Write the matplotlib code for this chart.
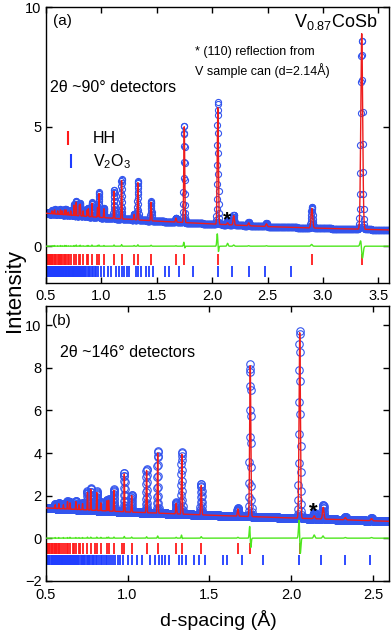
"""Neutron diffraction refinement plot, V0.87CoSb, two detector banks."""
import numpy as np
import matplotlib
matplotlib.use('Agg')
import matplotlib.pyplot as plt

# ---- panel (a): 2theta ~90 deg bank ----
a_bg_d = [0.5, 1.0, 1.5, 2.0, 2.5, 3.0, 3.6]
a_bg_y = [1.38, 1.20, 1.05, 0.93, 0.82, 0.75, 0.68]
a_pos = [0.558, 0.569, 0.580, 0.608, 0.633, 0.648, 0.670, 0.684, 0.703, 0.725,
         0.755, 0.775, 0.804, 0.812, 0.837, 0.874, 0.884, 0.917, 0.967, 0.980,
         1.025, 1.116, 1.184, 1.297, 1.331, 1.450, 1.674, 1.749, 2.051, 2.140,
         2.195, 2.330, 2.490, 2.900, 3.349]
a_obs = [1.50, 1.45, 1.55, 1.50, 1.55, 1.50, 1.55, 1.55, 1.45, 1.50,
         1.75, 1.90, 1.75, 1.80, 1.50, 1.55, 1.60, 1.85, 1.65, 2.25,
         1.60, 2.35, 2.82, 1.36, 2.72, 1.88, 1.20, 5.08, 6.05, 1.10,
         1.33, 1.00, 0.96, 1.65, 8.67]
a_calc = [1.48, 1.43, 1.52, 1.48, 1.52, 1.48, 1.52, 1.52, 1.43, 1.48,
          1.72, 1.85, 1.72, 1.76, 1.48, 1.52, 1.57, 1.80, 1.62, 2.20,
          1.57, 2.30, 2.75, 1.33, 2.66, 1.84, 1.18, 5.00, 5.80, 0.98,
          1.28, 0.98, 0.94, 1.58, 8.90]
a_shift = [0, 0, 0, 0, 0, 0, 0, 0, 0, 0,
           0, 0, 0, 0, 0, 0, 0, 0, 0, 0,
           0, 0, 0, 0, 0, 0, 0, 0.0002, 0.0006, 0,
           0, 0, 0, 0.0002, 0.0006]

# ---- panel (b): 2theta ~146 deg bank ----
b_bg_d = [0.5, 1.0, 1.5, 2.0, 2.6]
b_bg_y = [1.42, 1.23, 1.08, 0.95, 0.79]
b_pos = [0.558, 0.580, 0.608, 0.633, 0.648, 0.684, 0.703, 0.725, 0.755, 0.775,
         0.812, 0.837, 0.874, 0.884, 0.917, 0.980, 1.025, 1.116, 1.184, 1.297,
         1.331, 1.450, 1.674, 1.749, 2.051, 2.140, 2.195, 2.330, 2.490]
b_obs = [1.60, 1.65, 1.60, 1.75, 1.70, 1.75, 1.60, 1.65, 2.20, 2.35,
         2.20, 1.70, 1.80, 1.83, 2.30, 3.10, 2.05, 3.25, 4.10, 1.68,
         4.06, 2.55, 1.42, 8.19, 9.76, 1.20, 1.55, 1.00, 0.95]
b_calc = [1.57, 1.62, 1.57, 1.72, 1.66, 1.72, 1.57, 1.62, 2.15, 2.30,
          2.15, 1.66, 1.76, 1.78, 2.25, 3.02, 2.00, 3.18, 4.00, 1.64,
          3.95, 2.48, 1.38, 8.10, 9.65, 1.05, 1.45, 0.97, 0.92]
b_shift = [0, 0, 0, 0, 0, 0, 0, 0, 0, 0,
           0, 0, 0, 0, 0, 0, 0, 0, 0, 0,
           0.0001, 0, 0, 0.0004, 0.0006, 0, 0.0002, 0, 0]

# ---- reflection markers ----
hh_d = [3.349, 2.900, 2.051, 1.749, 1.674, 1.450, 1.331, 1.297, 1.184, 1.116,
        1.025, 0.980, 0.967, 0.917, 0.884, 0.874, 0.837, 0.812, 0.804, 0.775,
        0.755, 0.725, 0.709, 0.703, 0.684, 0.670, 0.665, 0.648, 0.637, 0.633,
        0.618, 0.608, 0.592, 0.583, 0.580, 0.569, 0.561, 0.558, 0.549, 0.541,
        0.539, 0.529, 0.523, 0.513, 0.507, 0.505]
v2o3_d = [2.71, 2.48, 2.33, 2.18, 2.05, 1.83, 1.70, 1.61, 1.58, 1.47,
          1.435, 1.405, 1.36, 1.335, 1.315, 1.255, 1.23, 1.21, 1.19, 1.165,
          1.135, 1.09, 1.06, 1.03, 1.00, 0.97, 0.952, 0.940, 0.926, 0.913,
          0.900, 0.888, 0.877, 0.866, 0.855, 0.845, 0.835, 0.825, 0.816, 0.807,
          0.798, 0.790, 0.781, 0.773, 0.765, 0.757, 0.750, 0.742, 0.734, 0.727,
          0.720, 0.713, 0.706, 0.699, 0.692, 0.686, 0.679, 0.673, 0.667, 0.660,
          0.654, 0.648, 0.642, 0.637, 0.631, 0.625, 0.619, 0.614, 0.608, 0.602,
          0.597, 0.591, 0.586, 0.580, 0.574, 0.569, 0.563, 0.558, 0.552, 0.547,
          0.541, 0.536, 0.530, 0.523, 0.518, 0.512, 0.505]

BLUE = '#3355ee'
RED = '#ee1c1c'
GREEN = '#4ee61e'
TRED = '#ff1a1a'
TBLUE = '#1f3dff'


def profile(d, bg_d, bg_y, pos, tot, shift, sfrac):
    bg = np.interp(d, bg_d, bg_y)
    y = bg.copy()
    for p, t, s in zip(pos, tot, shift):
        amp = t - np.interp(p, bg_d, bg_y)
        c = p + s
        y += amp * np.exp(-0.5 * ((d - c) / (sfrac * c)) ** 2)
    return y


plt.rcParams.update({'font.family': 'Liberation Sans', 'font.size': 10.5,
                     'axes.linewidth': 1.0, 'mathtext.default': 'regular'})
fig = plt.figure(figsize=(3.92, 6.36), dpi=100)
axa = fig.add_axes([0.1166, 0.5558, 0.877, 0.4327])
axb = fig.add_axes([0.1166, 0.0869, 0.877, 0.4324])

panels = [
    (axa, (0.5, 3.6), (-1.52, 10.0), a_bg_d, a_bg_y, a_pos, a_obs, a_calc, a_shift,
     0.0025, 4.4, (-0.31, -0.79), (-0.84, -1.28)),
    (axb, (0.5, 2.6), (-2.0, 10.92), b_bg_d, b_bg_y, b_pos, b_obs, b_calc, b_shift,
     0.0020, 5.4, (-0.24, -0.75), (-0.77, -1.27)),
]
for (ax, xl, yl, bgd, bgy, pos, obs, calc, shift, sf, ms, rr, br) in panels:
    d = np.geomspace(xl[0], xl[1], 2800)
    dfine = np.geomspace(xl[0], xl[1], 9000)
    zero = [0.0] * len(pos)
    y_obs = profile(d, bgd, bgy, pos, obs, zero, sf)
    y_calc = profile(dfine, bgd, bgy, pos, calc, shift, sf)
    y_calc_d = profile(d, bgd, bgy, pos, calc, shift, sf)
    ax.plot(d, y_obs, 'o', mfc='none', mec=BLUE, ms=ms, mew=0.8, zorder=2)
    ax.plot(dfine, y_calc, color=RED, lw=1.0, zorder=3)
    ax.plot(d, y_obs - y_calc_d, color=GREEN, lw=1.0, zorder=3)
    ax.vlines([h for h in hh_d if h <= xl[1]], rr[0], rr[1], color=TRED, lw=1.3)
    ax.vlines([v for v in v2o3_d if v <= xl[1]], br[0], br[1], color=TBLUE, lw=1.3)
    ax.set_xlim(*xl)
    ax.set_ylim(*yl)
    ax.tick_params(direction='in', top=True, right=True, length=4, width=1.0)
    ax.tick_params(axis='x', pad=5)
    ax.tick_params(axis='y', pad=3)

axa.set_xticks([0.5, 1.0, 1.5, 2.0, 2.5, 3.0, 3.5])
axa.set_yticks([0, 5, 10])
axb.set_xticks([0.5, 1.0, 1.5, 2.0, 2.5])
axb.set_yticks([-2, 0, 2, 4, 6, 8, 10])

# panel (a) text
axa.text(0.021, 0.95, '(a)', transform=axa.transAxes, fontsize=11, va='center')
axa.text(0.964, 0.947, 'V$_{0.87}$CoSb', transform=axa.transAxes, fontsize=13,
         ha='right', va='center')
axa.text(0.434, 0.838, '* (110) reflection from', transform=axa.transAxes,
         fontsize=9, va='center')
axa.text(0.434, 0.769, 'V sample can (d=2.14Å)', transform=axa.transAxes,
         fontsize=9, va='center')
axa.text(0.012, 0.707, '2θ ~90° detectors', transform=axa.transAxes,
         fontsize=11.5, va='center')
axa.plot([0.064], [0.525], marker='|', ms=10, mew=1.5, color=TRED,
         transform=axa.transAxes)
axa.text(0.138, 0.525, 'HH', transform=axa.transAxes, fontsize=11.5, va='center')
axa.plot([0.075], [0.44], marker='|', ms=10, mew=1.5, color=TBLUE,
         transform=axa.transAxes)
axa.text(0.138, 0.44, 'V$_2$O$_3$', transform=axa.transAxes, fontsize=11.5,
         va='center')
axa.text(2.13, 1.12, '*', fontsize=15, fontweight='bold', ha='center', va='center')

# panel (b) text
axb.text(0.018, 0.944, '(b)', transform=axb.transAxes, fontsize=11, va='center')
axb.text(0.042, 0.829, '2θ ~146° detectors', transform=axb.transAxes,
         fontsize=11.5, va='center')
axb.text(2.137, 1.2, '*', fontsize=16, fontweight='bold', ha='center', va='center')

fig.text(0.038, 0.544, 'Intensity', rotation=90, fontsize=16, ha='center',
         va='center')
fig.text(0.556, 0.025, 'd-spacing (Å)', fontsize=14, ha='center', va='center')

fig.savefig('out.png', dpi=100)
